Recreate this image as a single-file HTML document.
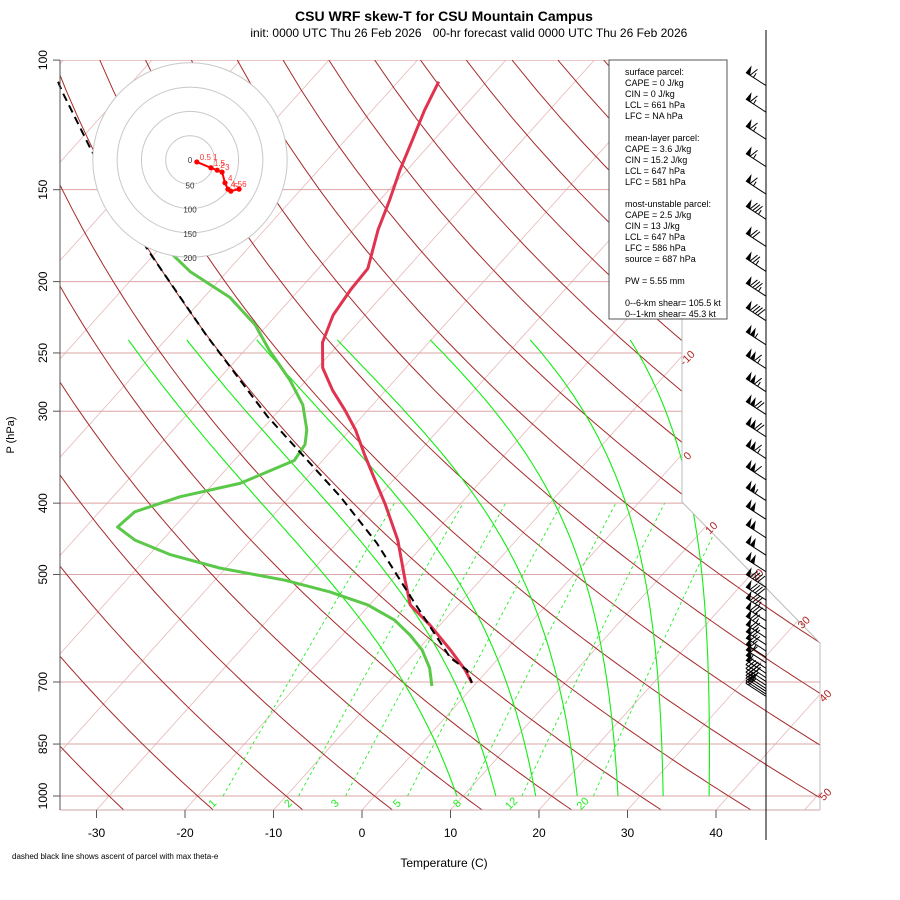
<!DOCTYPE html>
<html><head><meta charset="utf-8">
<style>
html,body{margin:0;padding:0;background:#fff;}
svg{display:block;font-family:"Liberation Sans",Arial,sans-serif;}
</style></head>
<body>
<svg id="chart" width="900" height="900" viewBox="0 0 900 900" xmlns="http://www.w3.org/2000/svg">
<defs><clipPath id="plotclip"><polygon points="60,60 682,60 682,502 820,643 820,810 60,810"/></clipPath></defs>
<text x="444" y="21" text-anchor="middle" font-size="14" font-weight="bold">CSU WRF skew-T for CSU Mountain Campus</text>
<text x="336" y="37" text-anchor="middle" font-size="12">init: 0000 UTC Thu 26 Feb 2026</text>
<text x="560" y="37" text-anchor="middle" font-size="12">00-hr forecast valid 0000 UTC Thu 26 Feb 2026</text>
<g id="bg" clip-path="url(#plotclip)"></g>
<g id="marks"></g>
<g id="axes"></g>
<g id="barbs"></g>
<g id="hodo"></g>
<line x1="766" y1="30" x2="766" y2="840" stroke="#000" stroke-width="1"/>
<g font-size="9">
<rect x="609" y="60" width="118" height="259" fill="#fff" stroke="#555" stroke-width="1"/>
<text x="625" y="75">surface parcel:</text>
<text x="625" y="86">CAPE = 0 J/kg</text>
<text x="625" y="97">CIN = 0 J/kg</text>
<text x="625" y="108">LCL = 661 hPa</text>
<text x="625" y="119">LFC = NA hPa</text>
<text x="625" y="141">mean-layer parcel:</text>
<text x="625" y="152">CAPE = 3.6 J/kg</text>
<text x="625" y="163">CIN = 15.2 J/kg</text>
<text x="625" y="174">LCL = 647 hPa</text>
<text x="625" y="185">LFC = 581 hPa</text>
<text x="625" y="207">most-unstable parcel:</text>
<text x="625" y="218">CAPE = 2.5 J/kg</text>
<text x="625" y="229">CIN = 13 J/kg</text>
<text x="625" y="240">LCL = 647 hPa</text>
<text x="625" y="251">LFC = 586 hPa</text>
<text x="625" y="262">source = 687 hPa</text>
<text x="625" y="284">PW =  5.55 mm</text>
<text x="625" y="306">0--6-km shear= 105.5 kt</text>
<text x="625" y="317">0--1-km shear= 45.3 kt</text>
</g>
<text x="444" y="867" text-anchor="middle" font-size="12">Temperature (C)</text>
<text x="14" y="435" text-anchor="middle" font-size="11" transform="rotate(-90 14 435)">P (hPa)</text>
<text x="12" y="859" font-size="8">dashed black line shows ascent of parcel with max theta-e</text>
</svg>
<script>
// ---- data ----
const tempP = [107,117,128,141,155,170,192,205,222,242,262,281,299,318,344,372,402,449,509,550,586,633,674,702];
const tempT = [-65.4,-64.1,-62.5,-60.8,-58.9,-57.2,-54.4,-54.2,-53.6,-52.0,-49.4,-46.0,-42.6,-39.4,-35.8,-32.1,-28.4,-23.4,-18.5,-15.4,-11.1,-6.3,-2.6,-0.5];
const dewP = [184,194,210,229,248,272,294,318,333,350,376,392,411,431,449,470,490,509,528,550,577,604,633,670,709];
const dewT = [-77.8,-74.1,-67.1,-61.4,-57.2,-51.9,-47.9,-44.9,-43.6,-43.2,-47.0,-52.4,-56.0,-56.4,-53.1,-47.6,-40.7,-32.1,-25.8,-20.2,-15.6,-12.4,-9.5,-6.8,-4.7];
const parcelP = [107,110,132,181,236,305,341,392,453,536,649,674,702];
const parcelT = [-108.4,-107.1,-97.9,-81.2,-66.0,-50.7,-43.4,-34.3,-25.5,-16.2,-5.5,-2.4,-0.5];
const pLevels = [100,150,200,250,300,400,500,700,850,1000];
const tTicks = [-30,-20,-10,0,10,20,30,40];
const isoLabels = [-10,0,10,20,30,40,50];
const mixRatios = [1,2,3,5,8,12,20];
const moistTopT = [-74.2,-67.6,-59.7,-50.6,-40.1,-28.8,-17.5];   // at 240 hPa
const moistBottomT = [9.3,13.7,18.2,22.9,27.5,32.6,37.8];        // at 1000 hPa
const barbP = [104,113,123,134,146,158,172,186,201,217,234,252,271,291,312,334,357,381,404,428,452,476,500,520,538,555,570,585,598,610,622,633,644,654,663,671,679,686,692,698,703];
const barbSpd = [65,65,65,65,65,85,70,75,85,90,105,115,115,120,120,115,110,105,100,100,100,100,90,90,85,80,75,75,70,70,65,60,55,50,45,40,35,30,25,20,20];
const hodoU = [14,43,56,66,72,78,84,101];
const hodoV = [-4,-16,-21,-25,-47,-60,-64,-60];
const hodoLab = ["0.5 1","1.5","2","3","4","4.5","5","6"];

// ---- scales ----
function yP(p){return 796-319.6*Math.log(1000/p);}
function xT(T,p){return 362+8.85*T+0.9*(810-yP(p));}
function pY(y){return 1000*Math.exp(-(796-y)/319.6);}
const NS='http://www.w3.org/2000/svg';
function mk(tag,attrs,parent){const e=document.createElementNS(NS,tag);for(const k in attrs)e.setAttribute(k,attrs[k]);parent.appendChild(e);return e;}
function pathFrom(pts){return pts.map((q,i)=>(i?'L':'M')+q[0].toFixed(1)+','+q[1].toFixed(1)).join('');}
const bg=document.getElementById('bg'), marks=document.getElementById('marks'), axes=document.getElementById('axes');

// isotherms
for(let T=-150;T<=50;T+=10){
  const l=mk('line',{x1:xT(T,pY(810)),y1:810,x2:xT(T,pY(60)),y2:60,stroke:'#e6b8b8','stroke-width':0.8},bg);
  
  
}
// pressure lines
pLevels.forEach(p=>{
  const l=mk('line',{x1:60,y1:yP(p),x2:820,y2:yP(p),stroke:'#dba5a5','stroke-width':1},bg);
  
  
});
// dry adiabats
for(let th=-30;th<=200;th+=10){
  const pts=[];for(let p=1060;p>=95;p-=10){const T=(th+273.15)*Math.pow(p/1000,0.286)-273.15;pts.push([xT(T,p),yP(p)]);}
  const e=mk('path',{d:pathFrom(pts),fill:'none',stroke:'#a52a2a','stroke-width':1},bg);
  
  
}
// mixing ratio lines
function tdFromW(w,p){const e=w*p/(622+w);const a=Math.log(e/6.112);return 243.5*a/(17.67-a);}
mixRatios.forEach(w=>{
  const pts=[];for(let p=1000;p>=400;p-=10){pts.push([xT(tdFromW(w,p),p),yP(p)]);}
  const e=mk('path',{d:pathFrom(pts),fill:'none',stroke:'#22ee22','stroke-width':0.9,'stroke-dasharray':'3,3'},bg);
  
  
  const lx=xT(tdFromW(w,1000),1000)-8, ly=806;
  const t=mk('text',{x:lx,y:ly,fill:'#22ee22','font-size':11,'text-anchor':'middle',transform:'rotate(-45 '+lx+' '+ly+')'},marks);
  t.textContent=w;
  
  
});
// moist adiabats: integrate from both ends and blend
function esat(T){return 6.112*Math.exp(17.67*T/(T+243.5));}
function dTdp(T,p){const Tk=T+273.15;const rs=0.622*esat(T)/(p-esat(T));const Lv=2.5e6,Rd=287,cp=1004;
  return (1/p)*(Rd*Tk+Lv*rs)/(cp+Lv*Lv*rs*0.622/(Rd*Tk*Tk));}
function integ(T0,p0,p1){const out={};let T=T0,p=p0;const st=p1>p0?5:-5;out[p]=T;
  while(Math.abs(p-p1)>0.01){const dp=st;const k1=dTdp(T,p),k2=dTdp(T+k1*dp/2,p+dp/2);T+=k2*dp;p+=dp;out[Math.round(p)]=T;}return out;}
moistTopT.forEach((Tt,i)=>{
  const Tb=moistBottomT[i];
  const down=integ(Tt,240,1000), up=integ(Tb,1000,240);
  const pts=[];
  for(let p=240;p<=1000;p+=5){
    const w=Math.log(p/240)/Math.log(1000/240);
    const T=(1-w)*down[p]+w*up[p];
    pts.push([xT(T,p),yP(p)]);
  }
  const e=mk('path',{d:pathFrom(pts),fill:'none',stroke:'#11ee11','stroke-width':1.1},bg);
  
  
});
// boundary
const bnd=mk('polyline',{points:'682,60 682,502 820,643 820,810',fill:'none',stroke:'#bbb','stroke-width':1},axes);


const bl=mk('line',{x1:60,y1:810,x2:820,y2:810,stroke:'#caa','stroke-width':1},axes);


const ll=mk('line',{x1:60,y1:60,x2:60,y2:810,stroke:'#555','stroke-width':1},axes);


pLevels.forEach(p=>{
  const y=yP(p);
  const tk=mk('line',{x1:53,y1:y,x2:60,y2:y,stroke:'#555'},axes);
  
  
  const t=mk('text',{x:47,y:y,'font-size':12,'text-anchor':'middle',transform:'rotate(-90 47 '+y+')'},axes);
  t.textContent=p;
  
  
});
tTicks.forEach(T=>{
  const x=362+8.85*T;
  const tk=mk('line',{x1:x,y1:810,x2:x,y2:818,stroke:'#555'},axes);
  
  
  const t=mk('text',{x:x,y:837,'font-size':12,'text-anchor':'middle'},axes);
  t.textContent=T;
  
  
});
// isotherm labels along boundary
function boundX(y){if(y<=502)return 682;if(y<=643)return 682+(y-502)*138/141;return 820;}
isoLabels.forEach(T=>{
  let yy=60;for(let y=60;y<=810;y+=0.5){if(xT(T,pY(y))<=boundX(y)){yy=y;break;}}
  const x=boundX(yy)+8, y=yy+4;
  const t=mk('text',{x:x,y:y,fill:'#b22222','font-size':11,'text-anchor':'middle',transform:'rotate(-45 '+x+' '+y+')'},axes);
  t.textContent=T;
  
  
});
// series
function series(P,T){return P.map((p,i)=>[xT(T[i],p),yP(p)]);}
const tl=mk('path',{d:pathFrom(series(tempP,tempT)),fill:'none',stroke:'#e0334f','stroke-width':3,'stroke-linejoin':'round'},marks);


const dl=mk('path',{d:pathFrom(series(dewP,dewT)),fill:'none',stroke:'#5cc84a','stroke-width':3,'stroke-linejoin':'round'},marks);


const pl=mk('path',{d:pathFrom(series(parcelP,parcelT)),fill:'none',stroke:'#000','stroke-width':2,'stroke-dasharray':'8,5'},marks);


// wind barbs
const bars=document.getElementById('barbs');
const ux=-20/23.85, uy=-13/23.85;
const px=13/23.85, py=-20/23.85;
barbP.forEach((p,i)=>{
  const by=yP(p)+13, bx=766;
  const tx=bx+ux*24, ty=by+uy*24;
  const g=mk('g',{},bars);
  
  
  mk('line',{x1:bx,y1:by,x2:tx,y2:ty,stroke:'#000','stroke-width':1},g);
  let s=Math.round(barbSpd[i]/5)*5, d=0;
  while(s>=50){const ax=tx-ux*d,ay=ty-uy*d, cx=tx-ux*(d+5),cy=ty-uy*(d+5);
    mk('polygon',{points:`${ax},${ay} ${cx},${cy} ${ax+px*9-ux*1},${ay+py*9-uy*1}`,fill:'#000'},g);d+=5;s-=50;}
  while(s>=10){const ax=tx-ux*d,ay=ty-uy*d;mk('line',{x1:ax,y1:ay,x2:ax+px*9-ux*3,y2:ay+py*9-uy*3,stroke:'#000','stroke-width':1},g);d+=3;s-=10;}
  if(s>=5){const ax=tx-ux*(d+1),ay=ty-uy*(d+1);mk('line',{x1:ax,y1:ay,x2:ax+px*5,y2:ay+py*5,stroke:'#000','stroke-width':1},g);}
});
// hodograph
const hodo=document.getElementById('hodo');
const hc=[190,160], hs=0.486;
[200,150,100,50].forEach(r=>{
  const c=mk('circle',{cx:hc[0],cy:hc[1],r:r*hs,fill:r==200?'#fff':'none',stroke:'#c8c8c8','stroke-width':1},hodo);
  
  
});
[50,100,150,200].forEach(r=>{
  const t=mk('text',{x:hc[0],y:hc[1]+r*hs+4,'font-size':8,'text-anchor':'middle',fill:'#333'},hodo);
  t.textContent=r;
  
  
});
const z=mk('text',{x:hc[0],y:hc[1]+3,'font-size':8,'text-anchor':'middle',fill:'#333'},hodo);z.textContent='0';


const hpts=hodoU.map((u,i)=>[hc[0]+u*hs,hc[1]-hodoV[i]*hs]);
const hl=mk('path',{d:pathFrom(hpts),fill:'none',stroke:'#f00','stroke-width':2},hodo);


hpts.forEach((q,i)=>{
  const c=mk('circle',{cx:q[0],cy:q[1],r:2.6,fill:'#f00'},hodo);
  
  
  const t=mk('text',{x:q[0]+3,y:q[1]-2,'font-size':8,fill:'#f33'},hodo);
  t.textContent=hodoLab[i];
  
  
});
</script>
</body></html>
